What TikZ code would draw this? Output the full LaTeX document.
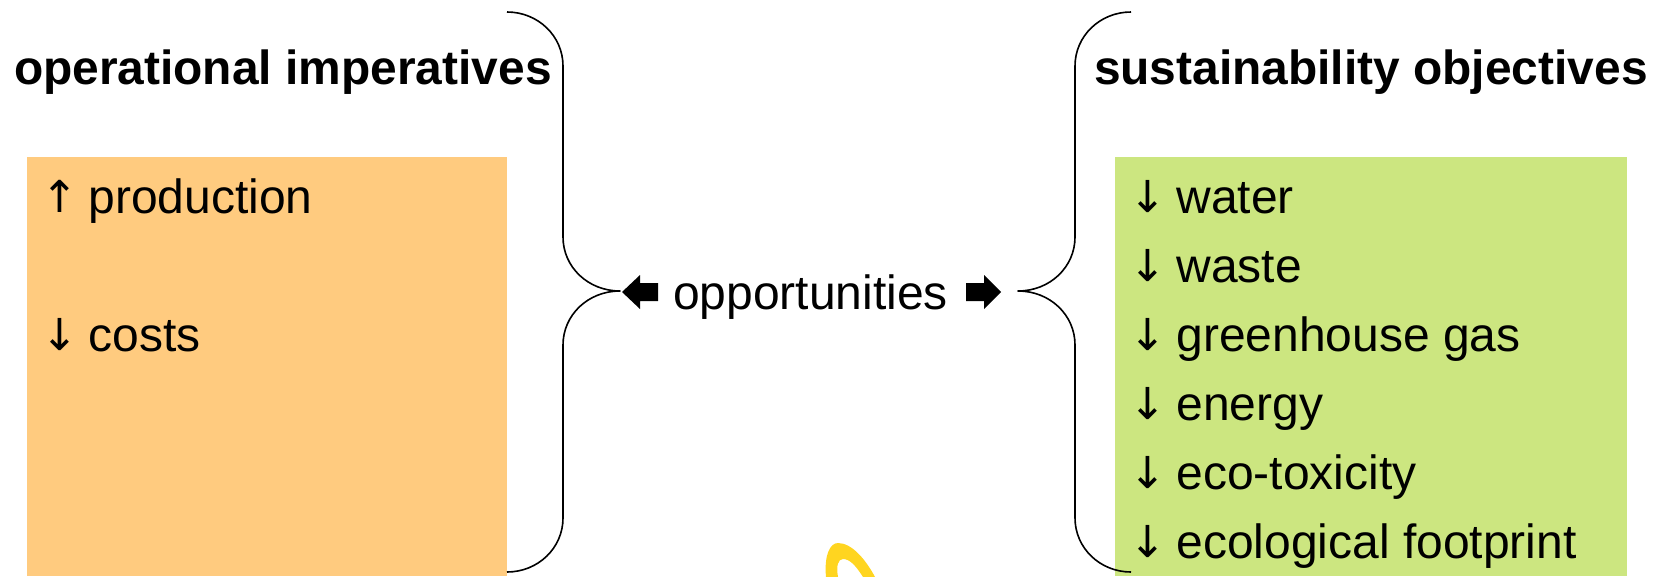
\documentclass[tikz,border=0pt]{standalone}
\usepackage{fontspec}
\setmainfont{Liberation Sans}
\newfontfamily\arrowfont{DejaVu Sans}
\definecolor{boxorange}{HTML}{FFCB7F}
\definecolor{boxgreen}{HTML}{CCE680}
\definecolor{ringyellow}{HTML}{FFD520}
\newcommand{\upmark}{\makebox[56.5pt][c]{\raisebox{1pt}{\fontsize{44}{50}\arrowfont ↑}}}
\newcommand{\downmark}{\makebox[56.5pt][c]{\raisebox{1pt}{\fontsize{44}{50}\arrowfont ↓}}}
\tikzset{
  lbl/.style={anchor=base west,inner sep=0pt,outer sep=0pt,font=\fontsize{48}{50}\selectfont,text=black},
  head/.style={lbl,font=\fontsize{47.9}{50}\selectfont\bfseries},
  bracket/.style={draw=black,line width=1.6pt,line join=round},
  blockarrow/.style={fill=black,draw=none}
}
\begin{document}
\begin{tikzpicture}[x=1pt,y=-1pt]
\useasboundingbox (0,0) rectangle (1661,576);
\clip (0,0) rectangle (1661,576);
\fill[boxorange] (27,157) rectangle (507,576);
\fill[boxgreen] (1115,157) rectangle (1627,576);
% yellow ring fragment
\fill[ringyellow] (826,577) .. controls (824,555) and (830,543) .. (838,543)
  .. controls (852,543) and (866,560) .. (875,577) -- (863,577)
  .. controls (856,566) and (850,559) .. (843,559)
  .. controls (838,559) and (836,566) .. (838,577) -- cycle;
% braces
\coordinate (ltop) at (507,12);
\coordinate (ltip) at (620,291);
\coordinate (lbot) at (507,572);
\coordinate (rtop) at (1131,12);
\coordinate (rtip) at (1018,291);
\coordinate (rbot) at (1131,572);
\draw[bracket] (ltop) .. controls (538,12) and (563,36) .. (563,66) -- (563,237)
  .. controls (563,267) and (588,291) .. (ltip)
  .. controls (588,291) and (563,315) .. (563,345) -- (563,518)
  .. controls (563,548) and (538,572) .. (lbot);
\draw[bracket] (rtop) .. controls (1100,12) and (1075,36) .. (1075,66) -- (1075,237)
  .. controls (1075,267) and (1050,291) .. (rtip)
  .. controls (1050,291) and (1075,315) .. (1075,345) -- (1075,518)
  .. controls (1075,548) and (1100,572) .. (rbot);
% block arrows
\fill[blockarrow] (622,292) -- (640,275) -- (640,283) -- (658,283) -- (658,301) -- (640,301) -- (640,309) -- cycle;
\fill[blockarrow] (1001,292) -- (984,275) -- (984,283) -- (966,283) -- (966,301) -- (984,301) -- (984,309) -- cycle;
% texts
\node[head] (opimp) at (14,84.5) {operational imperatives};
\node[head] (susobj) at (1094,84.5) {sustainability objectives};
\node[lbl] (opp) at (673,309) {opportunities};
\node[lbl] (prod) at (32,213) {\upmark production};
\node[lbl] (cost) at (32,351) {\downmark costs};
\node[lbl] (wat) at (1120,213) {\downmark water};
\node[lbl] (was) at (1120,282) {\downmark waste};
\node[lbl] (ghg) at (1120,351) {\downmark greenhouse gas};
\node[lbl] (ene) at (1120,420) {\downmark energy};
\node[lbl] (eco) at (1120,489) {\downmark eco-toxicity};
\node[lbl] (foot) at (1120,558) {\downmark ecological footprint};
\end{tikzpicture}
\end{document}
